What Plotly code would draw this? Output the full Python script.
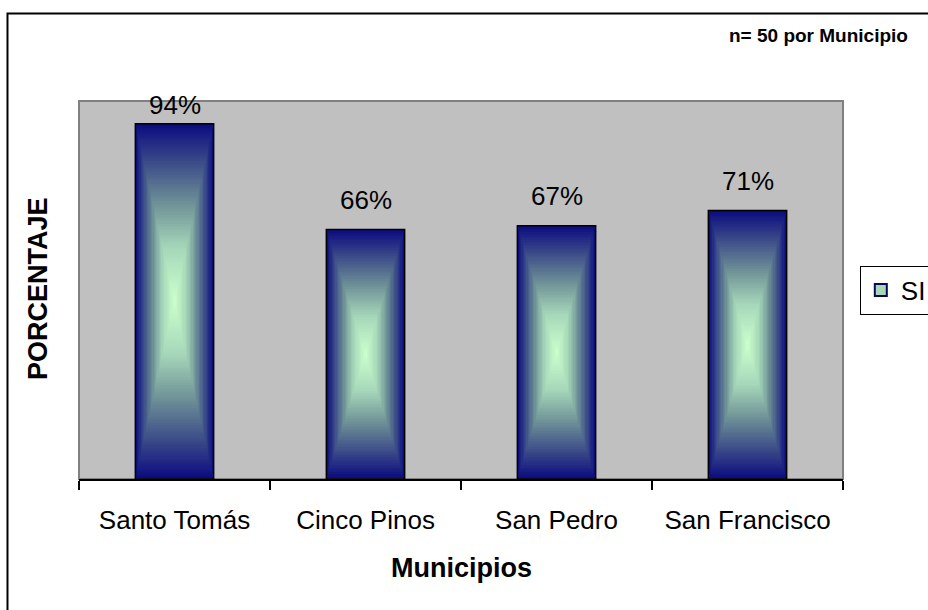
import numpy as np
import plotly.graph_objects as go

# Survey results: share answering "SI" per municipality (n = 50 each)
municipios = ["Santo Tomás", "Cinco Pinos", "San Pedro", "San Francisco"]
porcentaje_si = [94, 66, 67, 71]
serie = "SI"

FONT = "Liberation Sans, Arial, sans-serif"
BAR_W = 0.41
# two-colour "from centre" fill: light green in the middle, dark blue at the edges
fill_scale = [
    [0.0, "rgb(204,255,204)"],
    [0.3, "rgb(165,215,185)"],
    [0.55, "rgb(110,145,150)"],
    [0.8, "rgb(55,70,135)"],
    [1.0, "rgb(10,10,128)"],
]

fig = go.Figure()

# gradient fill of each bar, built on the same data axes as the bars
nx, ny = 60, 160
for i, v in enumerate(porcentaje_si):
    xe = np.linspace(i - BAR_W / 2, i + BAR_W / 2, nx + 1)
    ye = np.linspace(0, v, ny + 1)
    u = np.abs((np.arange(nx) + 0.5) / nx * 2 - 1)
    w = np.abs((np.arange(ny) + 0.5) / ny * 2 - 1)
    z = np.maximum(u[None, :], w[:, None])
    fig.add_trace(go.Heatmap(
        x=xe, y=ye, z=z, colorscale=fill_scale, zmin=0, zmax=1,
        showscale=False, hoverinfo="skip", showlegend=False,
    ))

# bar outlines
fig.add_trace(go.Bar(
    x=list(range(len(municipios))), y=porcentaje_si, width=BAR_W,
    marker=dict(color="rgba(0,0,0,0)", line=dict(color="black", width=1.5)),
    showlegend=False, hoverinfo="skip",
))

# legend entry for the series
fig.add_trace(go.Scatter(
    x=[None], y=[None], mode="markers", name=serie,
    marker=dict(symbol="square", size=15, color="#A8D8B8",
                line=dict(color="#0A0A50", width=2)),
))

# value labels above the bars (kept inside the plot top)
for i, v in enumerate(porcentaje_si):
    fig.add_annotation(
        x=i, y=min(v + 7.8, 98.9), text=f"{v}%", showarrow=False,
        xanchor="center", yanchor="middle",
        font=dict(family=FONT, size=26, color="black"),
    )

# axis titles and sample-size note
fig.add_annotation(x=0.5, y=-0.235, xref="paper", yref="paper",
                   text="<b>Municipios</b>", showarrow=False,
                   xanchor="center", yanchor="middle",
                   font=dict(family=FONT, size=27, color="black"))
fig.add_annotation(x=-0.0537, y=0.505, xref="paper", yref="paper",
                   text="<b>PORCENTAJE</b>", showarrow=False, textangle=-90,
                   xanchor="center", yanchor="middle",
                   font=dict(family=FONT, size=27, color="black"))
fig.add_annotation(x=1.0877, y=1.1746, xref="paper", yref="paper",
                   text="<b>n= 50 por Municipio</b>", showarrow=False,
                   xanchor="right", yanchor="middle",
                   font=dict(family=FONT, size=19, color="black"))

# plot-area frame and outer chart frame
fig.add_shape(type="rect", xref="paper", yref="paper", x0=0, y0=0, x1=1, y1=1,
              line=dict(color="#808080", width=2), layer="below")
fig.add_shape(type="rect", xref="paper", yref="paper",
              x0=-0.0936, y0=1.2315, x1=1.3, y1=-0.6,
              line=dict(color="black", width=2))

fig.update_layout(
    width=928, height=610,
    margin=dict(l=79, r=85, t=101, b=131, autoexpand=False),
    paper_bgcolor="white", plot_bgcolor="#C0C0C0",
    font=dict(family=FONT, size=26, color="black"),
    legend=dict(x=1.022, y=0.5, xanchor="left", yanchor="middle",
                xref="paper", yref="paper",
                bgcolor="white", bordercolor="black", borderwidth=1,
                font=dict(family=FONT, size=26, color="black"),
                itemsizing="constant", itemwidth=30),
    xaxis=dict(
        range=[-0.5, 3.5], tickmode="array",
        tickvals=list(range(len(municipios))), ticktext=municipios,
        ticks="", showgrid=False, zeroline=False,
        showline=True, linecolor="black", linewidth=1.5,
        ticklabelstandoff=17,
        minor=dict(ticks="outside", tick0=-0.5, dtick=1, ticklen=9,
                   tickcolor="black", tickwidth=1.5, showgrid=False),
        tickfont=dict(family=FONT, size=26, color="black"),
        fixedrange=True,
    ),
    yaxis=dict(range=[0, 100], showticklabels=False, ticks="",
               showgrid=False, zeroline=False, showline=False,
               fixedrange=True),
    bargap=0.59,
)

fig.write_html("out.html")
